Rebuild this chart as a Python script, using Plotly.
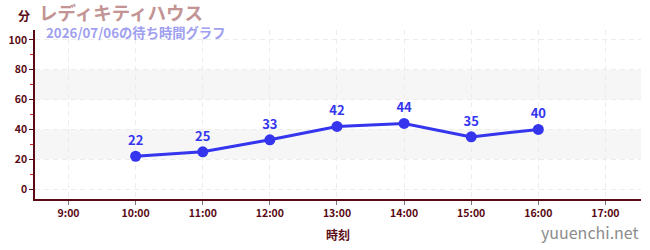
import plotly.graph_objects as go

hours = [10, 11, 12, 13, 14, 15, 16]
waits = [22, 25, 33, 42, 44, 35, 40]
tick_hours = [9, 10, 11, 12, 13, 14, 15, 16, 17]
tick_labels = ["9:00", "10:00", "11:00", "12:00", "13:00", "14:00", "15:00", "16:00", "17:00"]
bands = [(20, 40), (60, 80)]

title = "レディキティハウス"
subtitle = "2026/07/06の待ち時間グラフ"
FONT = "Noto Sans CJK JP"
AX = "#5a0a14"

fig = go.Figure()
for y0, y1 in bands:
    fig.add_hrect(y0=y0, y1=y1, fillcolor="#f6f6f6", line_width=0, layer="below")

fig.add_trace(go.Scatter(
    x=hours, y=waits, mode="lines+markers+text",
    line=dict(color="#3535ee", width=3),
    marker=dict(color="#3535ee", size=11),
    text=[str(v) for v in waits], textposition="top center",
    textfont=dict(color="#3535ee", size=13, family=FONT, weight="bold"),
    cliponaxis=False, hoverinfo="skip",
))

fig.update_layout(
    width=650, height=250,
    margin=dict(l=30, r=9, t=30, b=50),
    paper_bgcolor="white", plot_bgcolor="white",
    showlegend=False,
    font=dict(family=FONT, color=AX),
)
fig.update_xaxes(
    range=[8.5, 17.53], tickvals=tick_hours, ticktext=tick_labels,
    showline=True, linecolor=AX, linewidth=1.5,
    ticks="outside", ticklen=4, tickcolor="#777777",
    ticklabelstandoff=0,
    showgrid=True, gridcolor="#ececec", griddash="5px,4px", gridwidth=1,
    tickfont=dict(size=10.5, color=AX, family=FONT, weight="bold"),
    title=dict(text="時刻", font=dict(size=12, color=AX, family=FONT, weight="bold"), standoff=12),
    zeroline=False,
)
fig.update_yaxes(
    range=[-6.67, 106.67], tickvals=[0, 20, 40, 60, 80, 100],
    showline=True, linecolor=AX, linewidth=1.5,
    ticks="outside", ticklen=4, tickcolor=AX,
    minor=dict(tickvals=[10, 30, 50, 70, 90], ticks="outside", ticklen=3, tickcolor="#dd2222", showgrid=False),
    showgrid=True, gridcolor="#ececec", griddash="5px,4px", gridwidth=1,
    tickfont=dict(size=10.5, color=AX, family=FONT, weight="bold"),
    zeroline=False,
)

fig.add_annotation(text="分", xref="paper", yref="paper", x=-0.005, y=1.0, xanchor="right", yanchor="bottom",
                   yshift=4, showarrow=False, font=dict(size=12, color=AX, family=FONT, weight="bold"))
fig.add_annotation(text=title, xref="paper", yref="paper", x=0.003, y=1.106, xanchor="left", yanchor="middle",
                   showarrow=False, font=dict(size=18.5, color="#c29494", family=FONT, weight="bold"))
fig.add_annotation(text=subtitle, xref="paper", yref="paper", x=0.015, y=0.985, xanchor="left", yanchor="middle",
                   showarrow=False, font=dict(size=13.3, color="#a0a0f0", family=FONT, weight="bold"))
fig.add_annotation(text="yuuenchi.net", xref="paper", yref="paper", x=1.0, y=-0.194, xanchor="right", yanchor="middle",
                   showarrow=False, font=dict(size=16, color="#8c8c8c", family=FONT))

fig.write_html("out.html")
